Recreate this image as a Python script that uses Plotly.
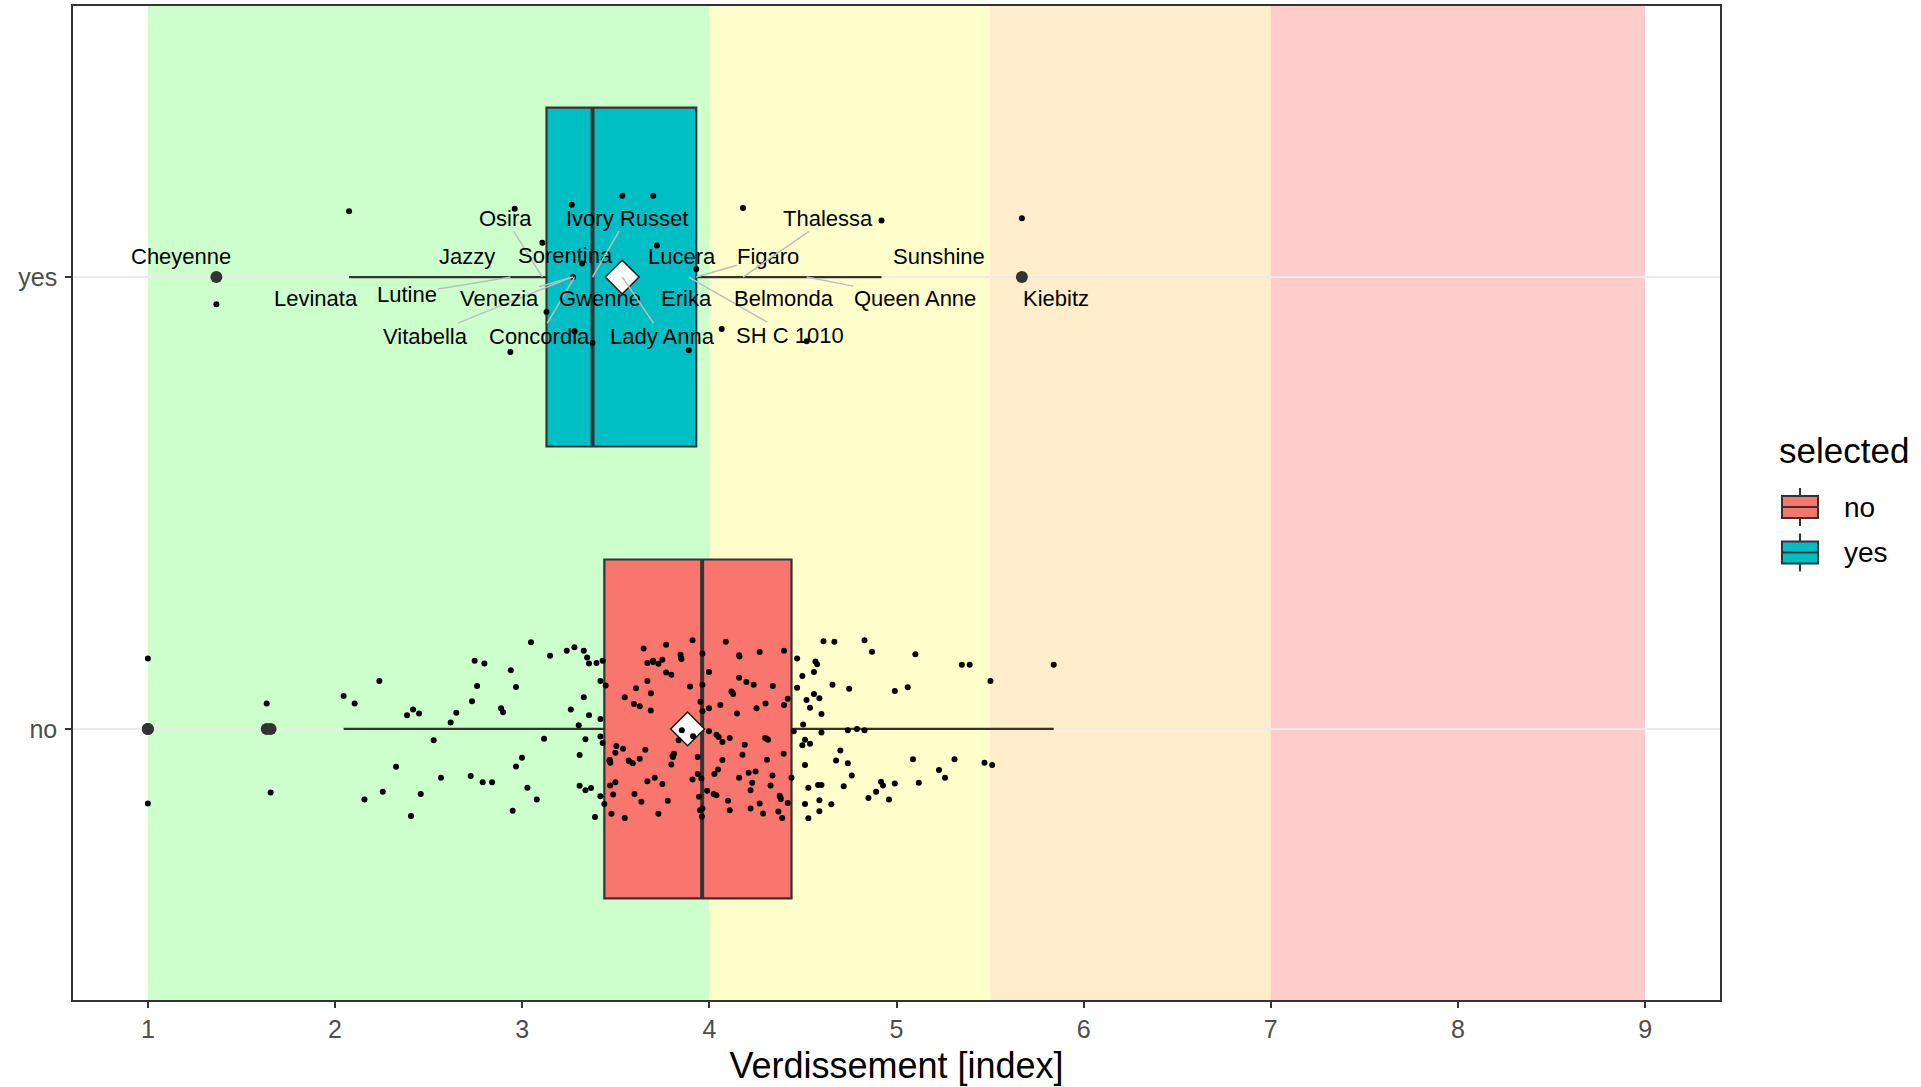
import numpy as np
import plotly.graph_objects as go

# ---------------- data ----------------
categories = ["no", "yes"]
category_pos = [1, 2]

no_values = [
    1.000, 1.000, 1.635, 1.656, 2.046, 2.105, 2.237, 2.157, 2.255,
    2.385, 2.417, 2.449, 2.326, 2.406, 2.458, 2.527, 2.566, 2.618, 2.648,
    2.732, 2.746, 2.798, 2.759, 2.725, 2.789, 2.839, 2.887, 2.898, 2.939,
    2.967, 2.949, 2.967, 2.999, 3.028, 3.078, 3.047, 3.149, 3.238, 3.117, 3.260,
    3.279, 3.329, 3.347, 3.357, 3.397, 3.430, 3.418, 3.446, 3.329, 3.357,
    3.418, 3.302, 3.338, 3.418, 3.430, 3.307, 3.307, 3.338, 3.368, 3.418,
    3.439, 3.389,
    3.649, 3.769, 3.910, 3.846, 3.851, 3.669, 3.699, 3.728, 3.749, 3.769,
    3.797, 3.669, 3.608, 3.688, 3.548, 3.897, 3.597, 3.628, 3.687, 3.503,
    3.539, 3.498, 3.468, 3.471, 3.569, 3.591, 3.628, 3.658, 3.811, 3.806,
    3.797, 3.669, 3.708, 3.749, 3.910, 3.470, 3.498, 3.486, 3.600, 3.637,
    3.778, 3.477, 3.548, 3.728, 3.853, 3.836, 3.913, 3.938, 3.938,
    3.466, 3.573, 3.803, 3.848, 3.700, 3.950, 3.952, 3.945,
    3.963, 3.963, 3.963, 3.957, 3.963, 3.960,
    4.088, 4.269, 4.159, 4.399, 3.998, 4.159, 4.198, 4.237, 4.339, 4.118,
    4.127, 4.059, 3.998, 4.252, 4.300, 4.399, 4.419, 4.148, 3.998, 4.038,
    4.050, 4.070, 4.109, 4.298, 4.314, 4.189, 4.177, 4.397, 4.070, 4.308,
    4.046, 4.027, 4.210, 4.247, 4.159, 4.337, 4.229, 4.327, 4.220, 3.988,
    4.023, 4.038, 4.376, 4.382, 4.100, 4.269, 4.419, 4.109, 4.220, 4.287,
    4.369, 4.389,
    4.122, 4.306, 4.379, 4.161,
    4.610, 4.469, 4.567, 4.576, 4.559, 4.497, 4.469, 4.559, 4.588, 4.519,
    4.538, 4.599, 4.501, 4.451, 4.599, 4.511, 4.497, 4.538, 4.511, 4.439,
    4.529, 4.581, 4.599, 4.511, 4.588, 4.588, 4.529,
    4.668, 4.829, 4.869, 5.101, 5.349, 5.391, 5.840, 5.502, 4.658, 4.747,
    4.991, 5.060, 4.740, 4.789, 4.829, 4.700, 4.677, 4.740, 4.761, 4.718,
    4.652, 4.850, 4.891, 4.917, 4.928, 4.991, 4.960, 5.088, 5.119, 5.227,
    5.259, 5.310, 5.470, 5.511,
]
no_jitter = [
    0.156, -0.165, 0.056, -0.141, 0.073, 0.056, 0.106, -0.156, -0.139,
    0.030, 0.043, 0.034, -0.084, -0.193, -0.144, -0.025, -0.108, 0.014, 0.036,
    0.061, 0.151, 0.145, 0.095, -0.104, -0.118, -0.118, 0.046, 0.037, 0.130,
    0.093, -0.181, -0.083, -0.064, -0.130, -0.156, 0.192, 0.162, 0.173, -0.022, 0.043,
    0.181, 0.173, 0.158, 0.145, 0.146, 0.151, 0.106, 0.096, 0.070, 0.030,
    0.022, 0.008, -0.023, -0.017, -0.031, -0.058, -0.126, -0.136, -0.131, -0.149,
    -0.166, -0.195,
    0.178, 0.186, 0.196, 0.164, 0.155, 0.146, 0.151, 0.144, 0.153, 0.125,
    0.120, 0.106, 0.090, 0.079, 0.070, 0.094, 0.055, 0.050, 0.041, -0.038,
    -0.044, -0.053, -0.068, -0.075, -0.070, -0.076, -0.066, -0.046, -0.055, -0.062,
    -0.079, -0.116, -0.108, -0.122, -0.112, -0.125, -0.118, -0.145, -0.144, -0.161,
    -0.159, -0.188, -0.197, -0.188, -0.003, -0.025, -0.016, -0.062, -0.100,
    -0.070, -0.072, -0.060, 0.158, 0.148, -0.180, 0.060, -0.150,
    0.167, 0.098, 0.039, -0.110, -0.176, -0.194,
    0.193, 0.170, 0.163, 0.173, 0.126, 0.113, 0.104, 0.098, 0.095, 0.083,
    0.077, 0.053, 0.046, 0.046, 0.056, 0.053, 0.067, 0.034, -0.005, -0.013,
    -0.018, -0.029, -0.020, -0.020, -0.024, -0.035, -0.057, -0.055, -0.069, -0.068,
    -0.090, -0.100, -0.097, -0.094, -0.108, -0.103, -0.119, -0.125, -0.136, -0.137,
    -0.144, -0.147, -0.148, -0.155, -0.159, -0.165, -0.164, -0.180, -0.176, -0.187,
    -0.183, -0.197,
    0.081, -0.022, -0.151, 0.160,
    0.194, 0.156, 0.149, 0.143, 0.126, 0.117, 0.091, 0.077, 0.068, 0.064,
    0.047, 0.033, 0.010, -0.005, -0.008, -0.024, -0.036, -0.033, -0.080, -0.108,
    -0.130, -0.124, -0.124, -0.166, -0.158, -0.182, -0.198,
    0.193, 0.196, 0.171, 0.165, 0.142, 0.142, 0.142, 0.106, 0.098, 0.089,
    0.084, 0.092, -0.003, 0.000, -0.003, -0.048, -0.070, -0.076, -0.103, -0.127,
    -0.167, -0.153, -0.139, -0.117, -0.125, -0.121, -0.156, -0.067, -0.119, -0.091,
    -0.108, -0.067, -0.075, -0.080,
]

yes_varieties = [
    "Cheyenne", "Levinata", "Lutine", "Jazzy", "Osira", "Sorentina",
    "Vitabella", "Venezia", "Concordia", "Gwenne", "Ivory Russet",
    "Lady Anna", "Lucera", "Erika", "SH C 1010", "Figaro", "Belmonda",
    "Thalessa", "Queen Anne", "Sunshine", "Kiebitz",
]
yes_values = [
    1.366, 2.075, 2.937, 2.960, 3.108, 3.130,
    3.265, 3.272, 3.280, 3.320, 3.376,
    3.535, 3.700, 3.720, 3.890, 3.930, 4.066,
    4.180, 4.520, 4.920, 5.670,
]
yes_jitter = [
    -0.060, 0.146, -0.166, 0.151, 0.076, -0.077,
    0.160, 0.000, -0.120, 0.030, -0.146,
    0.180, 0.180, 0.070, -0.162, 0.018, -0.115,
    0.153, -0.142, 0.125, 0.130,
]

x_ticks = [1, 2, 3, 4, 5, 6, 7, 8, 9]
band_edges = [1, 4, 5.5, 7, 9]

# ---------------- styles / layout ----------------
W, H = 1921, 1087
ML, MR, MT, MB = 73, 201, 6, 87
band_colors = ["rgba(0,255,0,0.2)", "rgba(255,255,0,0.2)",
               "rgba(255,165,0,0.2)", "rgba(255,0,0,0.2)"]
fill_colors = {"no": "#F8766D", "yes": "#00BFC4"}
dark = "#333333"
box_width = 0.75
font_family = "Liberation Sans, Arial, sans-serif"

# label offsets in pixels (repelled label positions) and whether a segment is drawn
label_dx = [-35, -33, -103, -48, -37, 19, -146, -74, -35, 18, 34,
            40, 29, 30, 101, 72, 62, 85, 108, 57, 34]
label_dy = [-21, 21, 17, -21, -59, -22, 59, 21, 59, 21, -59,
            59, -21, 21, 58, -21, 21, -59, 21, -21, 21]
label_seg = [False, False, True, False, True, False, True, True, True, False, True,
             True, False, False, True, True, False, True, True, False, False]

# legend layout (pixel positions)
legend_title_xy = (1777, 450)
legend_key_x = (1782, 1818)
legend_key_cy = {"no": 507, "yes": 552.5}
legend_text_x = 1842


def px_x(X):
    return (X - ML) / (W - ML - MR)


def px_y(Y):
    return (H - MB - Y) / (H - MT - MB)


fig = go.Figure()

# background bands
shapes = []
for i, col in enumerate(band_colors):
    shapes.append(dict(type="rect", xref="x", yref="paper",
                       x0=band_edges[i], x1=band_edges[i + 1], y0=0, y1=1,
                       fillcolor=col, line=dict(width=0), layer="between"))

groups = {"no": (no_values, no_jitter), "yes": (yes_values, yes_jitter)}

# boxes
for cat, pos in zip(categories, category_pos):
    vals, jit = groups[cat]
    fig.add_trace(go.Box(
        x=vals, y0=pos, orientation="h", name=cat,
        fillcolor=fill_colors[cat], line=dict(color=dark, width=2.2),
        width=box_width, whiskerwidth=0, boxpoints="outliers",
        jitter=0, pointpos=0, quartilemethod="inclusive",
        marker=dict(color=dark, size=12, line=dict(width=0)),
        hoverinfo="skip", showlegend=False,
    ))

# thick median lines, mean diamonds
for cat, pos in zip(categories, category_pos):
    vals, jit = groups[cat]
    med = float(np.median(vals))
    fig.add_trace(go.Scatter(
        x=[med, med], y=[pos - box_width / 2, pos + box_width / 2],
        mode="lines", line=dict(color=dark, width=4),
        showlegend=False, hoverinfo="skip"))
for cat, pos in zip(categories, category_pos):
    vals, jit = groups[cat]
    fig.add_trace(go.Scatter(
        x=[float(np.mean(vals))], y=[pos], mode="markers",
        marker=dict(symbol="diamond", size=26, color="white",
                    line=dict(color="#1a1a1a", width=1.5)),
        showlegend=False, hoverinfo="skip"))

# jittered points
for cat, pos in zip(categories, category_pos):
    vals, jit = groups[cat]
    fig.add_trace(go.Scatter(
        x=vals, y=[pos + j for j in jit], mode="markers",
        marker=dict(color="black", size=6, line=dict(width=0)),
        showlegend=False, hoverinfo="skip"))

# variety labels
annotations = []
for name, v, dx, dy, seg in zip(yes_varieties, yes_values, label_dx, label_dy, label_seg):
    annotations.append(dict(
        x=v, y=category_pos[1], xref="x", yref="y", text=name,
        showarrow=True, arrowhead=0, ax=dx, ay=dy,
        arrowwidth=1.5,
        arrowcolor="#BDBDBD" if seg else "rgba(0,0,0,0)",
        font=dict(family=font_family, size=22, color="black"),
        borderpad=0, standoff=0,
    ))

# custom legend (ggplot style boxplot keys)
annotations.append(dict(
    x=px_x(legend_title_xy[0]), y=px_y(legend_title_xy[1]), xref="paper", yref="paper",
    text="selected", showarrow=False, xanchor="left", yanchor="middle",
    font=dict(family=font_family, size=35, color="black")))
for cat in categories:
    cy = legend_key_cy[cat]
    kx0, kx1 = legend_key_x
    kxm = (kx0 + kx1) / 2
    shapes.append(dict(type="line", xref="paper", yref="paper",
                       x0=px_x(kxm), x1=px_x(kxm), y0=px_y(cy - 19), y1=px_y(cy + 19),
                       line=dict(color=dark, width=2)))
    shapes.append(dict(type="rect", xref="paper", yref="paper",
                       x0=px_x(kx0), x1=px_x(kx1), y0=px_y(cy - 11), y1=px_y(cy + 11),
                       fillcolor=fill_colors[cat], line=dict(color=dark, width=2)))
    shapes.append(dict(type="line", xref="paper", yref="paper",
                       x0=px_x(kx0), x1=px_x(kx1), y0=px_y(cy), y1=px_y(cy),
                       line=dict(color=dark, width=2)))
    annotations.append(dict(
        x=px_x(legend_text_x), y=px_y(cy), xref="paper", yref="paper",
        text=cat, showarrow=False, xanchor="left", yanchor="middle",
        font=dict(family=font_family, size=28, color="black")))

fig.update_layout(
    width=W, height=H,
    margin=dict(l=ML, r=MR, t=MT, b=MB),
    paper_bgcolor="white", plot_bgcolor="white",
    font=dict(family=font_family, color="black"),
    shapes=shapes, annotations=annotations,
    boxmode="overlay", showlegend=False,
    xaxis=dict(
        range=[0.6, 9.4], tickvals=x_ticks, ticktext=[str(t) for t in x_ticks],
        showgrid=False, zeroline=False,
        ticks="outside", ticklen=6, tickwidth=1.5, tickcolor=dark,
        tickfont=dict(size=25, color="#4D4D4D"),
        showline=True, linecolor=dark, linewidth=1.5, mirror=True,
        title=dict(text="Verdissement [index]", font=dict(size=36, color="black"), standoff=11),
        automargin=False,
    ),
    yaxis=dict(
        range=[0.4, 2.6], tickvals=category_pos, ticktext=categories,
        showgrid=True, gridcolor="#EBEBEB", gridwidth=1.5, zeroline=False,
        ticks="outside", ticklen=6, tickwidth=1.5, tickcolor=dark,
        tickfont=dict(size=25, color="#4D4D4D"), ticklabelstandoff=3,
        showline=True, linecolor=dark, linewidth=1.5, mirror=True,
        automargin=False,
    ),
)

fig.write_html("out.html", config={"displayModeBar": False},
               post_script="document.body.style.margin='0';document.body.style.padding='0';")
